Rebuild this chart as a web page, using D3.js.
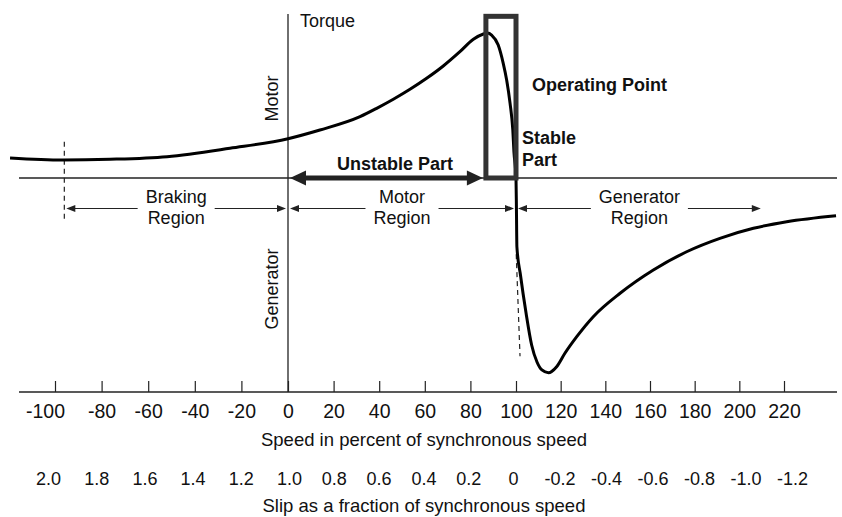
<!DOCTYPE html>
<html>
<head>
<meta charset="utf-8">
<script src="https://cdn.jsdelivr.net/npm/d3@7"></script>
<style>
  body { margin: 0; background: #fff; }
  text { font-family: "Liberation Sans", Arial, Helvetica, sans-serif; fill: #111; }
</style>
</head>
<body>
<div id="chart"></div>
<script>
// Speed axis (percent of synchronous speed) and slip axis
const speedTicks = [-100, -80, -60, -40, -20, 0, 20, 40, 60, 80, 100, 120, 140, 160, 180, 200, 220];
const slipTicks = [2.0, 1.8, 1.6, 1.4, 1.2, 1.0, 0.8, 0.6, 0.4, 0.2, 0, -0.2, -0.4, -0.6, -0.8, -1.0, -1.2];

// Torque-speed curve (speed %, torque % of pull-out)
const speed = [-119.3, -96.6, -76.4, -51.9, -24.9, 0, 14.0, 31.6, 38.9, 46.2, 53.5, 60.8, 68.1, 75.4, 81.3, 85.7, 87.5, 89.3,
               92.2, 94.4, 95.9, 97.4, 98.6, 99.1, 100,
               100.2, 100.4, 102.0, 104.5, 107.0, 109.4, 111.6, 114.5, 118.2, 121.9, 127.2, 134.6, 146.6, 161.5, 176.4,
               191.3, 206.3, 221.2, 243.3];
const torque = [27.6, 24.8, 25.8, 29.4, 41.0, 54.2, 66.2, 84.6, 96.1, 108.6, 122.3, 137.5, 154.5, 174.2, 191.3, 198.6, 200, 197.2,
                183.4, 158.2, 135.2, 103.0, 66.2, 35.9, 0,
                -44.1, -94.8, -133.8, -186.2, -230.3, -253.8, -264.8, -268.6, -260.3, -241.8, -218.9, -191.3, -159.0, -126.9, -101.7,
                -83.2, -69.4, -60.3, -52.0];

// Regions under the zero line
const regionLabels = [["Braking", "Region"], ["Motor", "Region"], ["Generator", "Region"]];
const regionFrom = [-96, 0, 100];
const regionTo = [0, 100, 210.5];

// Operating point box (speed from/to, torque top)
const opFrom = 86.8, opTo = 100, opTop = 223;

const width = 842, height = 517;

const svg = d3.select("#chart").append("svg")
    .attr("width", width)
    .attr("height", height);

const x = d3.scaleLinear().domain([-100, 0, 100, 220]).range([55, 288, 516, 784]);
const y = d3.scaleLinear().domain([0, 200]).range([178, 33]);
// slip labels sit slightly off the speed ticks in the original
const slipX = d3.scaleLinear().domain([2, 1, 0, -1.2]).range([48, 289, 513, 792]);

const axisY = 392;
const ink = "#222";

// helpers
function line(x1, y1, x2, y2, w, color) {
    return svg.append("line")
        .attr("x1", x1).attr("y1", y1).attr("x2", x2).attr("y2", y2)
        .attr("stroke", color || ink).attr("stroke-width", w || 1.2);
}
function head(tipX, yy, dir, len, half, color) {
    // dir = -1 points left, +1 points right
    const bx = tipX - dir * len;
    svg.append("path")
        .attr("d", `M${tipX},${yy}L${bx},${yy - half}L${bx},${yy + half}Z`)
        .attr("fill", color || ink);
}

// zero-torque line and axes
line(19, y(0), 837, y(0), 1.3);
line(19, axisY, 837, axisY, 1.3);
line(x(0), 14, x(0), axisY, 1.3);

// speed axis
const speedAxis = svg.append("g")
    .attr("transform", `translate(0,${axisY})`)
    .call(d3.axisBottom(x)
        .tickValues(speedTicks)
        .tickSizeInner(-11)
        .tickSizeOuter(0)
        .tickPadding(12.5)
        .tickFormat(d => String(d)));
speedAxis.select(".domain").remove();
speedAxis.selectAll("line").attr("stroke", ink).attr("stroke-width", 1.2);
speedAxis.selectAll("text")
    .attr("font-size", "19.5px")
    .attr("font-family", null)
    .attr("fill", "#111");
speedAxis.selectAll("text").filter(d => d === -100).attr("dx", -10);

// slip axis
const slipAxis = svg.append("g")
    .attr("transform", `translate(0,${axisY})`)
    .call(d3.axisBottom(slipX)
        .tickValues(slipTicks)
        .tickSize(0)
        .tickPadding(80)
        .tickFormat(d => d === 0 ? "0" : d.toFixed(1)));
slipAxis.select(".domain").remove();
slipAxis.selectAll("text")
    .attr("font-size", "18px")
    .attr("font-family", null)
    .attr("fill", "#111");

// axis titles
svg.append("text").attr("x", 424).attr("y", 446).attr("text-anchor", "middle")
    .attr("font-size", "18.5px").text("Speed in percent of synchronous speed");
svg.append("text").attr("x", 424).attr("y", 511.5).attr("text-anchor", "middle")
    .attr("font-size", "18.5px").text("Slip as a fraction of synchronous speed");

svg.append("text").attr("x", 300).attr("y", 26.5)
    .attr("font-size", "18px").text("Torque");
svg.append("text").attr("transform", `translate(277.5,98.5) rotate(-90)`)
    .attr("text-anchor", "middle").attr("font-size", "18px").text("Motor");
svg.append("text").attr("transform", `translate(277.5,289) rotate(-90)`)
    .attr("text-anchor", "middle").attr("font-size", "18px").text("Generator");

// dashed guides
line(x(-96), y(50), x(-96), y(-58), 1.2).attr("stroke-dasharray", "5,4");
line(x(100.1), y(-105), x(101.8), y(-246), 1.2).attr("stroke-dasharray", "5,4");

// region arrows with labels
const regionY = 208.5;
regionLabels.forEach((lab, i) => {
    const x1 = x(regionFrom[i]) + 2, x2 = x(regionTo[i]) - 2;
    const cx = (x(regionFrom[i]) + x(regionTo[i])) / 2;
    const t = svg.append("text").attr("x", cx).attr("y", 202.5)
        .attr("text-anchor", "middle").attr("font-size", "18px");
    t.append("tspan").attr("x", cx).text(lab[0]);
    t.append("tspan").attr("x", cx).attr("dy", 21.5).text(lab[1]);
    const half = d3.max(t.selectAll("tspan").nodes(), n => n.getComputedTextLength()) / 2 + 8;
    line(x1 + 7, regionY, cx - half, regionY, 1.2);
    line(cx + half, regionY, x2 - 7, regionY, 1.2);
    head(x1, regionY, -1, 9, 3.6);
    head(x2, regionY, 1, 9, 3.6);
});

// unstable part thick arrow
const tx1 = x(0) + 2, tx2 = x(opFrom) - 3;
line(tx1 + 14, y(0), tx2 - 14, y(0), 5, "#222");
head(tx1, y(0), -1, 16, 7.5, "#222");
head(tx2, y(0), 1, 16, 7.5, "#222");
svg.append("text").attr("x", 395).attr("y", 169.5).attr("text-anchor", "middle")
    .attr("font-size", "18px").attr("font-weight", "bold").text("Unstable Part");

// torque-speed curve
const pts = speed.map((s, i) => [s, torque[i]]);
svg.append("path")
    .datum(pts)
    .attr("d", d3.line().x(d => x(d[0])).y(d => y(d[1])).curve(d3.curveMonotoneX))
    .attr("fill", "none")
    .attr("stroke", "#000")
    .attr("stroke-width", 3);

// operating point box
svg.append("rect")
    .attr("x", x(opFrom)).attr("y", y(opTop))
    .attr("width", x(opTo) - x(opFrom)).attr("height", y(0) - y(opTop))
    .attr("fill", "none").attr("stroke", "#333").attr("stroke-width", 5);

svg.append("text").attr("x", 532).attr("y", 91)
    .attr("font-size", "18px").attr("font-weight", "bold").text("Operating Point");
const st = svg.append("text").attr("x", 522).attr("y", 144)
    .attr("font-size", "18px").attr("font-weight", "bold");
st.append("tspan").attr("x", 522).text("Stable");
st.append("tspan").attr("x", 522).attr("dy", 21.5).text("Part");
</script>
</body>
</html>
